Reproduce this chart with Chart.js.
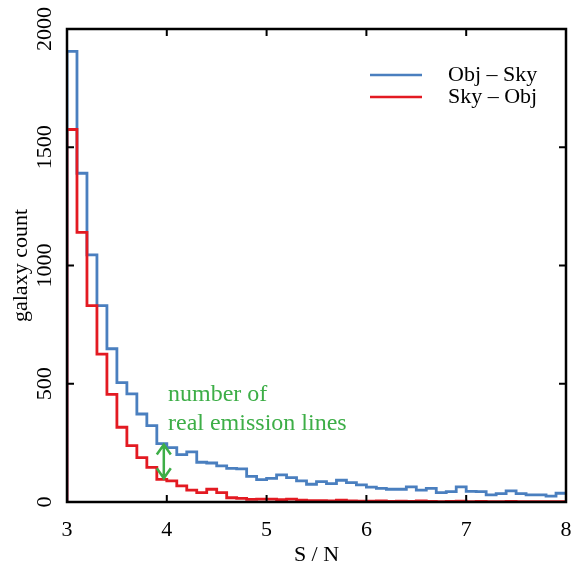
<!DOCTYPE html>
<html>
<head>
<meta charset="utf-8">
<script src="https://cdn.jsdelivr.net/npm/chart.js@4.4.1/dist/chart.umd.min.js"></script>
<style>
  html, body { margin: 0; padding: 0; background: #fff; }
  #wrap { width: 573px; height: 569px; }
</style>
</head>
<body>
<div id="wrap"><canvas id="myChart" width="573" height="569"></canvas></div>
<script>
// bin edges along S/N (0.1 wide)
const binEdges = [3.0, 3.1, 3.2, 3.3, 3.4, 3.5, 3.6, 3.7, 3.8, 3.9,
  4.0, 4.1, 4.2, 4.3, 4.4, 4.5, 4.6, 4.7, 4.8, 4.9,
  5.0, 5.1, 5.2, 5.3, 5.4, 5.5, 5.6, 5.7, 5.8, 5.9,
  6.0, 6.1, 6.2, 6.3, 6.4, 6.5, 6.6, 6.7, 6.8, 6.9,
  7.0, 7.1, 7.2, 7.3, 7.4, 7.5, 7.6, 7.7, 7.8, 7.9, 8.0];

// counts per bin
const objSky = [1905, 1390, 1045, 830, 648, 505, 457, 372, 323, 247,
  230, 200, 212, 168, 165, 153, 142, 140, 108, 95,
  100, 115, 103, 89, 75, 86, 78, 92, 82, 72,
  63, 58, 54, 54, 64, 50, 58, 40, 44, 64,
  45, 44, 30, 35, 47, 35, 30, 30, 25, 37];

const skyObj = [1575, 1140, 830, 625, 455, 316, 238, 188, 146, 96,
  89, 68, 50, 40, 54, 40, 18, 15, 11, 12,
  12, 10, 12, 8, 6, 6, 5, 8, 5, 4,
  4, 5, 3, 4, 3, 5, 3, 2, 3, 4,
  2, 3, 2, 2, 3, 2, 1, 2, 1, 1];

const xTicks = [3, 4, 5, 6, 7, 8];
const yTicks = [0, 500, 1000, 1500, 2000];

const serif = '"Liberation Serif", "DejaVu Serif", serif';
const blue = '#4a7fbf';
const red = '#e31a22';
const green = '#3dae47';

function toSteps(counts) {
  let pts = [{ x: binEdges[0], y: 0 }];
  counts.forEach((c, i) => pts.push({ x: binEdges[i + 1], y: c }));
  return pts;
}

// box, inward ticks, tick labels, legend and annotation
const decor = {
  id: 'decor',
  afterDraw(chart) {
    const ctx = chart.ctx;
    const a = chart.chartArea;
    const xs = chart.scales.x, ys = chart.scales.y;
    ctx.save();
    ctx.strokeStyle = '#000';
    ctx.lineWidth = 2;
    xTicks.forEach(v => {
      const px = xs.getPixelForValue(v);
      ctx.beginPath();
      ctx.moveTo(px, a.bottom); ctx.lineTo(px, a.bottom - 7);
      ctx.moveTo(px, a.top); ctx.lineTo(px, a.top + 7);
      ctx.stroke();
    });
    yTicks.forEach(v => {
      const py = ys.getPixelForValue(v);
      ctx.beginPath();
      ctx.moveTo(a.left, py); ctx.lineTo(a.left + 7, py);
      ctx.moveTo(a.right, py); ctx.lineTo(a.right - 7, py);
      ctx.stroke();
    });
    ctx.lineWidth = 2.5;
    ctx.strokeRect(a.left, a.top, a.right - a.left, a.bottom - a.top);

    ctx.fillStyle = '#000';
    ctx.font = '22px ' + serif;
    ctx.textAlign = 'center';
    ctx.textBaseline = 'middle';
    xTicks.forEach(v => {
      ctx.fillText(String(v), xs.getPixelForValue(v), 530);
    });
    // y tick labels, rotated
    yTicks.forEach(v => {
      const py = ys.getPixelForValue(v);
      ctx.save();
      ctx.translate(45, py);
      ctx.rotate(-Math.PI / 2);
      ctx.fillText(String(v), 0, 0);
      ctx.restore();
    });

    // legend
    ctx.textAlign = 'left';
    ctx.font = '22px ' + serif;
    chart.data.datasets.forEach((ds, i) => {
      const y = 75 + i * 22;
      ctx.strokeStyle = ds.borderColor;
      ctx.lineWidth = 2.5;
      ctx.beginPath();
      ctx.moveTo(370, y); ctx.lineTo(422, y);
      ctx.stroke();
      ctx.fillStyle = '#000';
      ctx.fillText(ds.label, 448, y);
    });

    // annotation
    ctx.fillStyle = green;
    ctx.font = '24px ' + serif;
    ctx.fillText('number of', 168, 395);
    ctx.fillText('real emission lines', 168, 424);
    const ax = xs.getPixelForValue(3.97);
    const yTop = ys.getPixelForValue(objSky[9]) + 1;
    const yBot = ys.getPixelForValue(skyObj[9]) - 1;
    ctx.strokeStyle = green;
    ctx.lineWidth = 2.5;
    ctx.beginPath();
    ctx.moveTo(ax, yTop); ctx.lineTo(ax, yBot);
    ctx.moveTo(ax - 7, yTop + 10); ctx.lineTo(ax, yTop); ctx.lineTo(ax + 7, yTop + 10);
    ctx.moveTo(ax - 7, yBot - 10); ctx.lineTo(ax, yBot); ctx.lineTo(ax + 7, yBot - 10);
    ctx.stroke();
    ctx.restore();
  }
};

const chart = new Chart(document.getElementById('myChart').getContext('2d'), {
  type: 'line',
  data: {
    datasets: [{
      label: 'Obj \u2013 Sky',
      data: toSteps(objSky),
      borderColor: blue,
      borderWidth: 2.8,
      stepped: 'after',
      pointRadius: 0,
      fill: false,
      order: 1
    }, {
      label: 'Sky \u2013 Obj',
      data: toSteps(skyObj),
      borderColor: red,
      borderWidth: 2.8,
      stepped: 'after',
      pointRadius: 0,
      fill: false,
      order: 0
    }]
  },
  options: {
    responsive: false,
    animation: false,
    layout: { padding: { top: 29, right: 7, left: 0, bottom: 0 } },
    plugins: { legend: { display: false }, tooltip: { enabled: false } },
    scales: {
      x: {
        type: 'linear',
        min: 3, max: 8,
        grid: { display: false, drawTicks: false },
        border: { display: false },
        afterBuildTicks: s => { s.ticks = xTicks.map(v => ({ value: v })); },
        afterFit: s => { s.height = 67; },
        ticks: { display: false },
        title: { display: true, text: 'S / N', color: '#000', font: { family: serif, size: 22 }, padding: { top: 0, bottom: 1 } }
      },
      y: {
        min: 0, max: 2000,
        grid: { display: false, drawTicks: false },
        border: { display: false },
        afterBuildTicks: s => { s.ticks = yTicks.map(v => ({ value: v })); },
        afterFit: s => { s.width = 67; },
        ticks: { display: false },
        title: { display: true, text: 'galaxy count', color: '#000', font: { family: serif, size: 22 }, padding: { top: 8, bottom: 0 } }
      }
    }
  },
  plugins: [decor]
});
</script>
</body>
</html>
